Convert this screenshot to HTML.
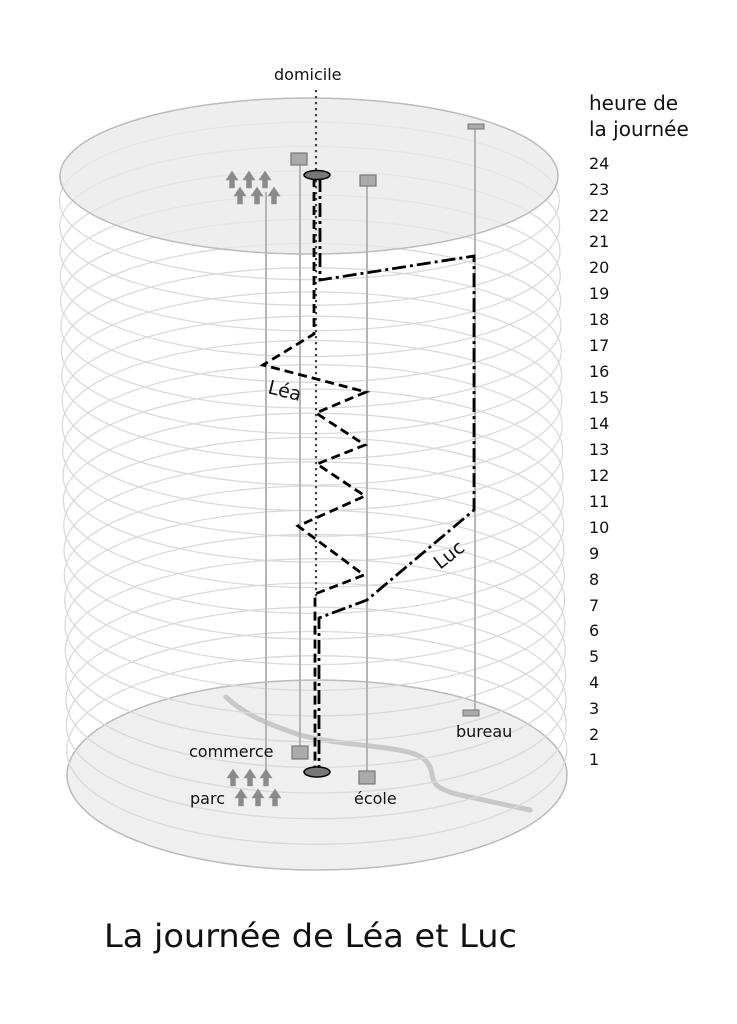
<!DOCTYPE html>
<html><head><meta charset="utf-8"><style>
html,body{margin:0;padding:0;background:#fff;}
svg{display:block;}
text{font-family:"DejaVu Sans","Liberation Sans",sans-serif;fill:#111;}
</style></head><body>
<svg width="737" height="1024" viewBox="0 0 737 1024" xmlns="http://www.w3.org/2000/svg">
<defs>
<g id="tree"><polygon points="0,-10 -6,-1 -2.5,-1 -2.5,7 2.5,7 2.5,-1 6,-1" fill="#8a8a8a" stroke="#999" stroke-width="0.6"/></g>
</defs>
<ellipse cx="317" cy="775" rx="250" ry="95" fill="#efefef" stroke="#bbb" stroke-width="1.5"/>
<path d="M226,697 C245,715 270,725 300,735 C350,748 410,745 425,760 C440,775 420,785 460,795 L530,810" fill="none" stroke="#c8c8c8" stroke-width="5" stroke-linecap="round"/>
<g fill="none" stroke="#dadada" stroke-width="1.3">
<ellipse cx="316.7" cy="750" rx="250" ry="94.3"/>
<ellipse cx="316.3" cy="725.1" rx="250" ry="93.6"/>
<ellipse cx="316" cy="700.1" rx="250" ry="92.9"/>
<ellipse cx="315.7" cy="675.2" rx="250" ry="92.2"/>
<ellipse cx="315.3" cy="650.2" rx="250" ry="91.5"/>
<ellipse cx="315" cy="625.2" rx="250" ry="90.8"/>
<ellipse cx="314.7" cy="600.3" rx="250" ry="90"/>
<ellipse cx="314.3" cy="575.3" rx="250" ry="89.3"/>
<ellipse cx="314" cy="550.4" rx="250" ry="88.6"/>
<ellipse cx="313.7" cy="525.4" rx="250" ry="88"/>
<ellipse cx="313.3" cy="500.4" rx="250" ry="87.2"/>
<ellipse cx="313" cy="475.5" rx="250" ry="86.5"/>
<ellipse cx="312.7" cy="450.5" rx="250" ry="85.8"/>
<ellipse cx="312.3" cy="425.6" rx="250" ry="85.1"/>
<ellipse cx="312" cy="400.6" rx="250" ry="84.4"/>
<ellipse cx="311.7" cy="375.6" rx="250" ry="83.7"/>
<ellipse cx="311.3" cy="350.7" rx="250" ry="83"/>
<ellipse cx="311" cy="325.7" rx="250" ry="82.3"/>
<ellipse cx="310.7" cy="300.8" rx="250" ry="81.5"/>
<ellipse cx="310.3" cy="275.8" rx="250" ry="80.8"/>
<ellipse cx="310" cy="250.8" rx="250" ry="80.1"/>
<ellipse cx="309.7" cy="225.9" rx="250" ry="79.4"/>
<ellipse cx="309.3" cy="200.9" rx="250" ry="78.7"/>
</g>
<ellipse cx="309" cy="176" rx="249" ry="78" fill="#e8e8e8" fill-opacity="0.75" stroke="#bbb" stroke-width="1.5"/>
<g stroke="#b5b5b5" stroke-width="2">
<line x1="266" y1="192" x2="266" y2="780"/>
<line x1="300" y1="164" x2="300" y2="746"/>
<line x1="367" y1="186" x2="367" y2="772"/>
<line x1="475" y1="128" x2="475" y2="711"/>
</g>
<line x1="316" y1="90" x2="316" y2="600" stroke="#444" stroke-width="2.2" stroke-dasharray="2.2,3.8"/>
<polyline points="314,178 314,334 263,365 366,392 316,413 365,445 317,464 365,496 298,526 364,575 315,594 315,770" fill="none" stroke="#000" stroke-width="2.8" stroke-dasharray="9,5"/>
<polyline points="320,178 320,280 474,256 474,510 367,600 319,618 319,770" fill="none" stroke="#000" stroke-width="2.8" stroke-dasharray="14,4,3,4"/>
<rect x="291" y="153" width="16" height="12" fill="#aaa" stroke="#777" stroke-width="1.2"/>
<rect x="360" y="175" width="16" height="11" fill="#aaa" stroke="#777" stroke-width="1.2"/>
<rect x="468" y="124" width="16" height="5" fill="#aaa" stroke="#777" stroke-width="1"/>
<ellipse cx="317" cy="175" rx="13" ry="4.5" fill="#777" stroke="#000" stroke-width="1.5"/>
<use href="#tree" x="232" y="181"/><use href="#tree" x="249" y="181"/><use href="#tree" x="265" y="181"/>
<use href="#tree" x="240" y="197"/><use href="#tree" x="257" y="197"/><use href="#tree" x="274" y="197"/>
<rect x="292" y="746" width="16" height="13" fill="#aaa" stroke="#777" stroke-width="1.2"/>
<rect x="359" y="771" width="16" height="13" fill="#aaa" stroke="#777" stroke-width="1.2"/>
<rect x="463" y="710" width="16" height="6" fill="#aaa" stroke="#777" stroke-width="1"/>
<ellipse cx="317" cy="772" rx="13" ry="5" fill="#777" stroke="#000" stroke-width="1.5"/>
<use href="#tree" x="233" y="779"/><use href="#tree" x="250" y="779"/><use href="#tree" x="266" y="779"/>
<use href="#tree" x="241" y="799"/><use href="#tree" x="258" y="799"/><use href="#tree" x="275" y="799"/>
<text x="274" y="80" font-size="16">domicile</text>
<text x="189" y="757" font-size="16">commerce</text>
<text x="190" y="804" font-size="16">parc</text>
<text x="354" y="804" font-size="16">école</text>
<text x="456" y="737" font-size="16">bureau</text>
<text x="267" y="393" font-size="19" transform="rotate(14 267 393)">Léa</text>
<text x="440" y="570" font-size="19" transform="rotate(-38 440 570)">Luc</text>
<text x="589" y="110" font-size="20">heure de</text>
<text x="589" y="136" font-size="20">la journée</text>
<g font-size="16">
<text x="589" y="169">24</text><text x="589" y="195">23</text><text x="589" y="221">22</text><text x="589" y="247">21</text>
<text x="589" y="273">20</text><text x="589" y="299">19</text><text x="589" y="325">18</text><text x="589" y="351">17</text>
<text x="589" y="377">16</text><text x="589" y="403">15</text><text x="589" y="429">14</text><text x="589" y="455">13</text>
<text x="589" y="481">12</text><text x="589" y="507">11</text><text x="589" y="533">10</text><text x="589" y="559">9</text>
<text x="589" y="585">8</text><text x="589" y="611">7</text><text x="589" y="636">6</text><text x="589" y="662">5</text>
<text x="589" y="688">4</text><text x="589" y="714">3</text><text x="589" y="740">2</text><text x="589" y="765">1</text>
</g>
<text x="104" y="947" font-size="32" textLength="413" lengthAdjust="spacingAndGlyphs">La journée de Léa et Luc</text>
</svg>
</body></html>
